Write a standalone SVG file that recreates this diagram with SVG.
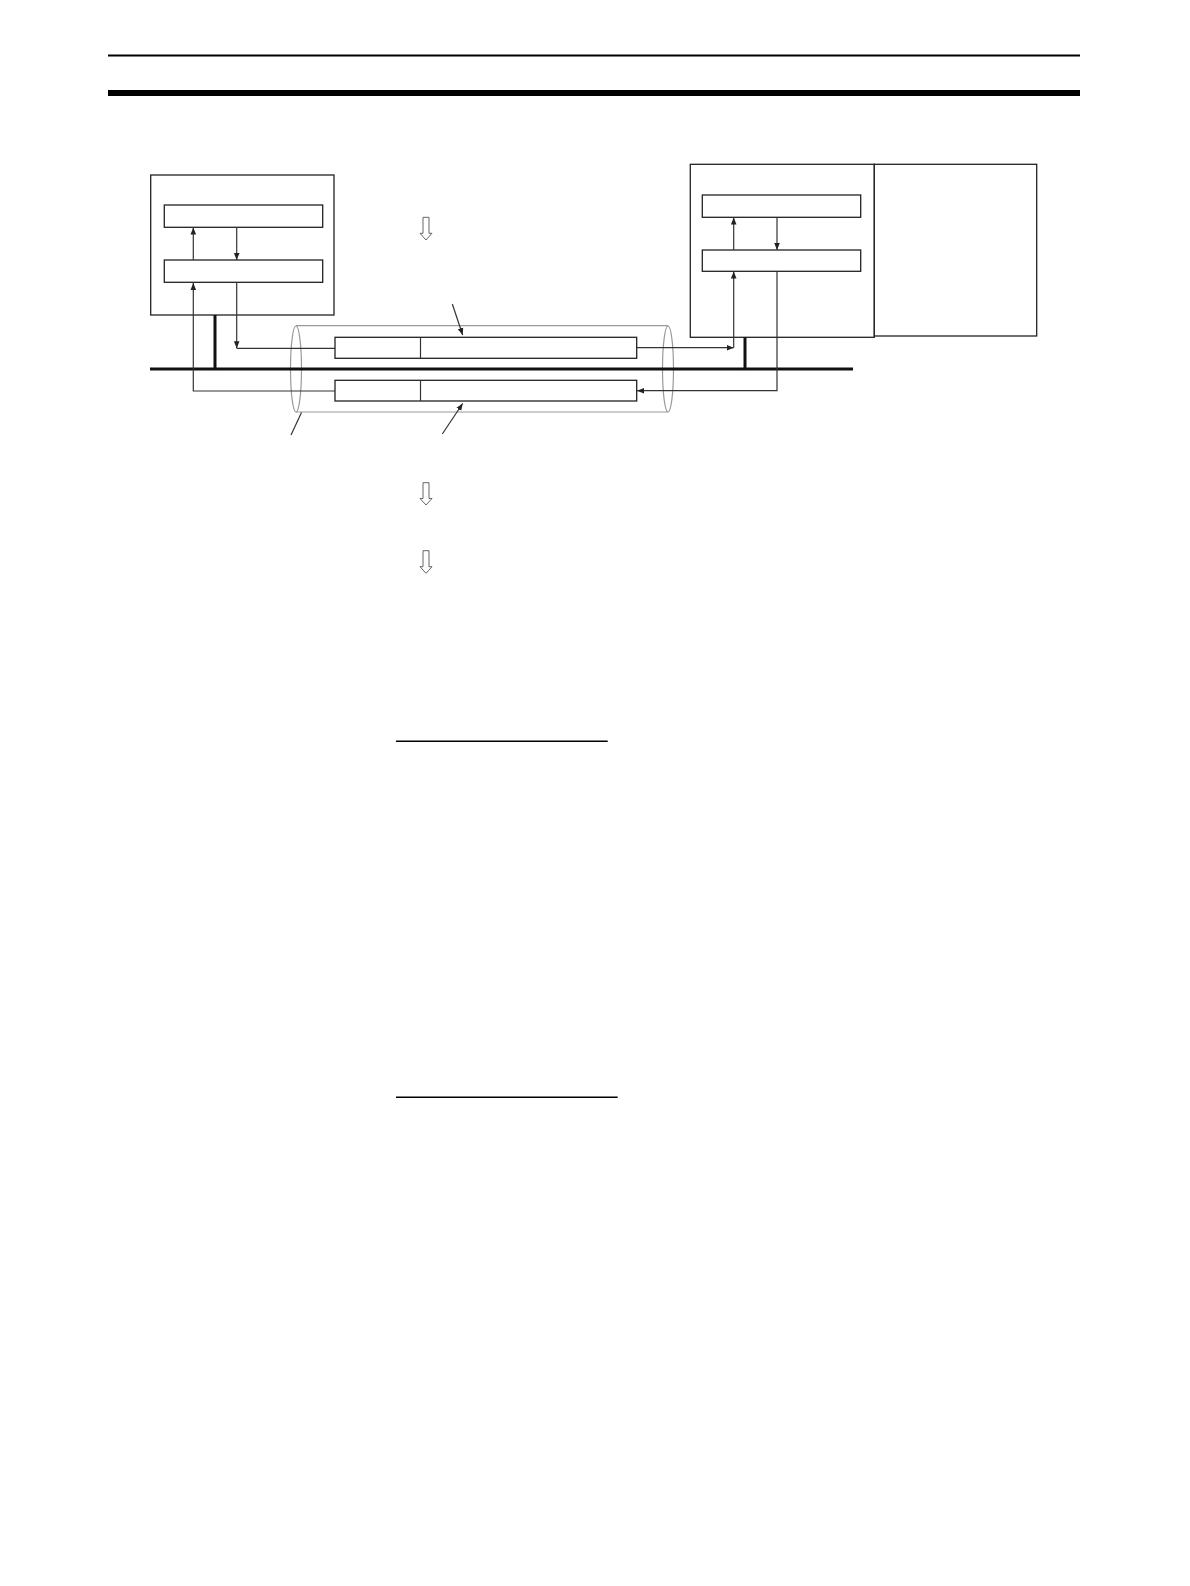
<svg xmlns="http://www.w3.org/2000/svg" width="1190" height="1586" viewBox="0 0 1190 1586">
<defs>
<marker id="ah" viewBox="0 0 10 10" refX="10" refY="5" markerWidth="7" markerHeight="7" markerUnits="userSpaceOnUse" orient="auto">
<path d="M0,1 L10,5 L0,9 Z" fill="#222"/>
</marker>
</defs>
<style>
.box{fill:#fff;stroke:#222;stroke-width:1.3}
.ln{fill:none;stroke:#333;stroke-width:1.2}
.cyl{fill:none;stroke:#999;stroke-width:1.2}
.bus{stroke:#111;stroke-width:3;fill:none}
.hol{fill:#fff;stroke:#666;stroke-width:1}
</style>
<rect width="1190" height="1586" fill="#fff"/>
<g id="header">
<line x1="108" y1="55.5" x2="1080" y2="55.5" stroke="#000" stroke-width="2"/>
<line x1="108" y1="93" x2="1080" y2="93" stroke="#000" stroke-width="6"/>
</g>
<g id="node-left">
<rect class="box" x="150.7" y="175" width="183.3" height="140"/>
<rect class="box" x="164.3" y="205" width="158.4" height="22.3"/>
<rect class="box" x="164.3" y="260" width="158.4" height="22.3"/>
</g>
<g id="node-right">
<rect class="box" x="690.3" y="164.3" width="184" height="173"/>
<rect class="box" x="874.3" y="164.3" width="162.4" height="171.7"/>
<rect class="box" x="702.3" y="195" width="158.4" height="22.3"/>
<rect class="box" x="702.3" y="250" width="158.4" height="21.3"/>
</g>
<g id="cable">
<line class="cyl" x1="296" y1="325.7" x2="668" y2="325.7"/>
<line class="cyl" x1="296" y1="412" x2="668" y2="412"/>
<ellipse class="cyl" cx="296" cy="369" rx="5.5" ry="43" stroke="#555"/>
<ellipse class="cyl" cx="668" cy="369" rx="5.5" ry="43" stroke="#555"/>
</g>
<g id="packet-1">
<rect class="box" x="335" y="337.3" width="301.7" height="21"/>
<line class="ln" x1="420.5" y1="337.3" x2="420.5" y2="358.3"/>
</g>
<g id="packet-2">
<rect class="box" x="335" y="380.3" width="301.7" height="20.7"/>
<line class="ln" x1="420.5" y1="380.3" x2="420.5" y2="401"/>
</g>
<g id="connectors">
<line class="bus" x1="150" y1="369" x2="853" y2="369"/>
<line class="bus" x1="215" y1="315" x2="215" y2="369"/>
<line class="bus" x1="745" y1="337.3" x2="745" y2="369"/>
<line class="ln" x1="193.3" y1="260" x2="193.3" y2="227.5" marker-end="url(#ah)"/>
<line class="ln" x1="236.7" y1="227.3" x2="236.7" y2="260" marker-end="url(#ah)"/>
<line class="ln" x1="733.7" y1="250" x2="733.7" y2="217.5" marker-end="url(#ah)"/>
<line class="ln" x1="777" y1="217.3" x2="777" y2="250" marker-end="url(#ah)"/>
<line class="ln" x1="236.7" y1="282.3" x2="236.7" y2="348.3" marker-end="url(#ah)"/>
<line class="ln" x1="236.7" y1="348.3" x2="335" y2="348.3"/>
<polyline class="ln" points="335,391 193.3,391 193.3,283" marker-end="url(#ah)"/>
<line class="ln" x1="636.7" y1="347.7" x2="733.7" y2="347.7" marker-end="url(#ah)"/>
<line class="ln" x1="733.7" y1="347.7" x2="733.7" y2="271.5" marker-end="url(#ah)"/>
<polyline class="ln" points="777,271.3 777,390.7 637,390.7" marker-end="url(#ah)"/>
<line class="ln" x1="452.3" y1="304" x2="462.7" y2="335" marker-end="url(#ah)"/>
<line class="ln" x1="442.3" y1="434" x2="462.7" y2="403.5" marker-end="url(#ah)"/>
<line class="ln" x1="301.5" y1="412.5" x2="291" y2="435"/>
</g>
<g id="hollow-arrows">
<polygon class="hol" points="423,217.3 429,217.3 429,233.3 432,233.3 426,240 420,233.3 423,233.3"/>
<polygon class="hol" points="423,482.7 429,482.7 429,498.5 432,498.5 426,505 420,498.5 423,498.5"/>
<polygon class="hol" points="423,550.7 429,550.7 429,566.7 432,566.7 426,573.3 420,566.7 423,566.7"/>
</g>
<g id="underlines">
<line x1="396" y1="741.3" x2="607.7" y2="741.3" stroke="#000" stroke-width="1.5"/>
<line x1="396" y1="1097.3" x2="617.7" y2="1097.3" stroke="#000" stroke-width="1.5"/>
</g>
</svg>
